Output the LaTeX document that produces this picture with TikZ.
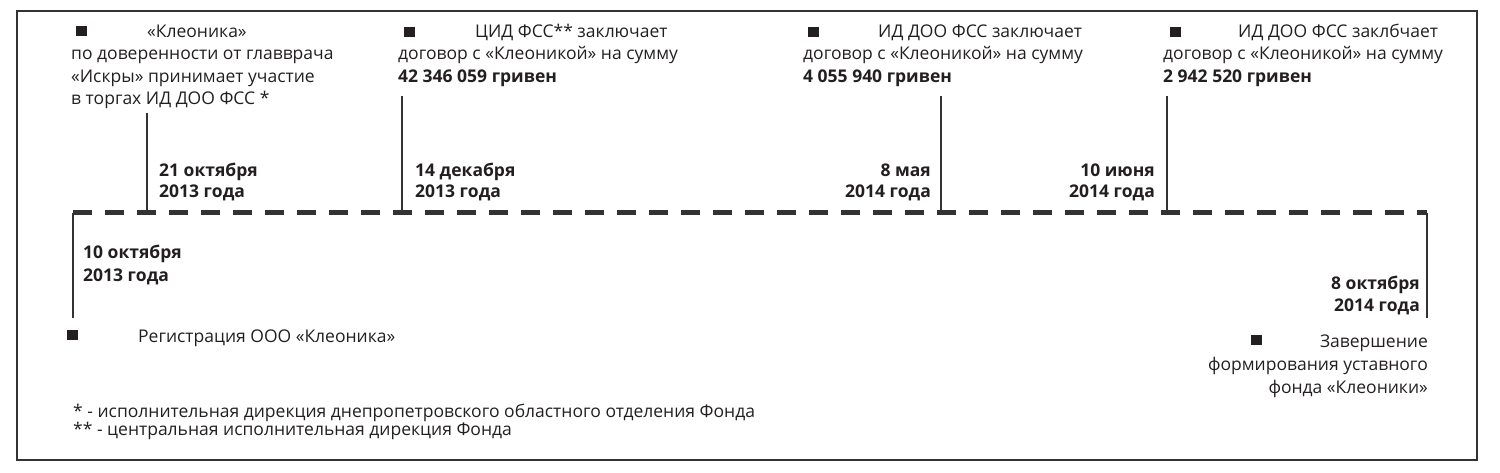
\documentclass[tikz,border=0pt]{standalone}
\usepackage{fontspec}
\setmainfont{Open Sans}
\definecolor{ink}{HTML}{231F20}
\definecolor{lin}{HTML}{333333}
\begin{document}
\begin{tikzpicture}[x=1pt,y=-1pt,
 txt/.style={inner sep=0pt, anchor=base west, text=ink, font=\fontsize{17.5}{21}\selectfont},
 txtr/.style={txt, anchor=base east},
 bld/.style={txt, font=\fontsize{17.5}{21}\selectfont\bfseries},
 bldr/.style={bld, anchor=base east},
 sq/.style={fill=ink, inner sep=0pt, minimum width=11pt, minimum height=10pt},
 tickline/.style={draw=lin, line width=2pt},
 axisline/.style={draw=lin, line width=5pt, dash pattern=on 19pt off 13pt}]
\useasboundingbox (0,0) rectangle (1500,473);
\draw[lin, line width=2pt] (17,11) rectangle (1477,460);

% timeline
\coordinate (tl) at (73,213);
\coordinate (tr) at (1427,213);
\coordinate (lb) at (73,318);
\coordinate (rb) at (1427,318);
\draw[axisline] (tl) -- (tr);
\draw[tickline] (tl) -- (lb);
\draw[tickline] (tr) -- (rb);

\coordinate (t1a) at (147,113); \coordinate (t1b) at (147,213);
\coordinate (t2a) at (402,96);  \coordinate (t2b) at (402,213);
\coordinate (t3a) at (941,96);  \coordinate (t3b) at (941,213);
\coordinate (t4a) at (1167,96); \coordinate (t4b) at (1167,213);
\draw[tickline] (t1a) -- (t1b);
\draw[tickline] (t2a) -- (t2b);
\draw[tickline] (t3a) -- (t3b);
\draw[tickline] (t4a) -- (t4b);

% box 1
\node[sq] (s1) at (81,31) {};
\node[txt] (b1a) at (147,37.5) {«Клеоника»};
\node[txt] (b1b) at (71,60) {по доверенности от главврача};
\node[txt] (b1c) at (71,82.5) {«Искры» принимает участие};
\node[txt] (b1d) at (71,105) {в торгах ИД ДОО ФСС *};

% box 2
\node[sq] (s2) at (409,32) {};
\node[txt] (b2a) at (475,37.5) {ЦИД ФСС** заключает};
\node[txt] (b2b) at (398,60) {договор с «Клеоникой» на сумму};
\node[bld] (b2c) at (398,82.5) {42 346 059 гривен};

% box 3
\node[sq] (s3) at (813,32) {};
\node[txt] (b3a) at (878,37.5) {ИД ДОО ФСС заключает};
\node[txt] (b3b) at (803,60) {договор с «Клеоникой» на сумму};
\node[bld] (b3c) at (803,82.5) {4 055 940 гривен};

% box 4
\node[sq] (s4) at (1175,32) {};
\node[txt] (b4a) at (1238,37.5) {ИД ДОО ФСС заклбчает};
\node[txt] (b4b) at (1163,60) {договор с «Клеоникой» на сумму};
\node[bld] (b4c) at (1163,82.5) {2 942 520 гривен};

% dates above
\node[bld] (d1a) at (159,177) {21 октября};
\node[bld] (d1b) at (159,198) {2013 года};
\node[bld] (d2a) at (415,177) {14 декабря};
\node[bld] (d2b) at (415,198) {2013 года};
\node[bldr] (d3a) at (931,177) {8 мая};
\node[bldr] (d3b) at (931,198) {2014 года};
\node[bldr] (d4a) at (1155,177) {10 июня};
\node[bldr] (d4b) at (1155,198) {2014 года};

% dates below
\node[bld] (d0a) at (83,259) {10 октября};
\node[bld] (d0b) at (83,281) {2013 года};
\node[bldr] (d5a) at (1420,290) {8 октября};
\node[bldr] (d5b) at (1420,311) {2014 года};

% bottom events
\node[sq] (s0) at (72,335) {};
\node[txt] (e0) at (138,342) {Регистрация ООО «Клеоника»};
\node[sq] (s5) at (1256,340) {};
\node[txtr] (e5a) at (1428,347) {Завершение};
\node[txtr] (e5b) at (1428,370) {формирования уставного};
\node[txtr] (e5c) at (1428,393) {фонда «Клеоники»};

% footnotes
\node[txt] (f1) at (73,417) {* - исполнительная дирекция днепропетровского областного отделения Фонда};
\node[txt] (f2) at (73,435) {** - центральная исполнительная дирекция Фонда};
\end{tikzpicture}
\end{document}
